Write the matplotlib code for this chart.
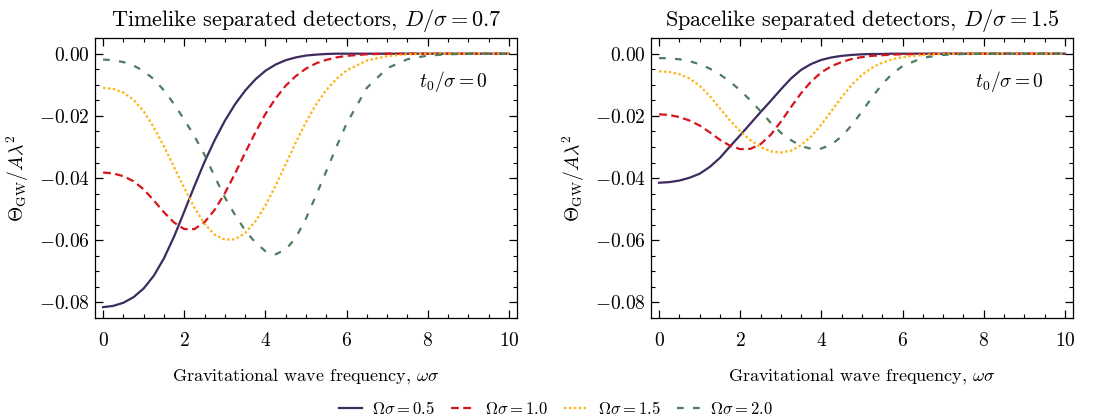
import matplotlib
matplotlib.use("Agg")
import matplotlib.pyplot as plt
from matplotlib.ticker import MultipleLocator

plt.rcParams['font.family'] = 'serif'
plt.rcParams['font.serif'] = ['cmr10']
plt.rcParams['mathtext.fontset'] = 'cm'
plt.rcParams['axes.formatter.use_mathtext'] = True
plt.rcParams['axes.unicode_minus'] = True

# ---------------- data ----------------
omega = [0, 0.25, 0.5, 0.75, 1.0, 1.25, 1.5, 1.75, 2.0, 2.25, 2.5, 2.75, 3.0,
         3.25, 3.5, 3.75, 4.0, 4.25, 4.5, 4.75, 5.0, 5.25, 5.5, 5.75, 6.0,
         6.5, 7.0, 7.5, 8.0, 8.5, 9.0, 9.5, 10.0]

series_labels = [r'$\Omega\sigma = 0.5$', r'$\Omega\sigma = 1.0$',
                 r'$\Omega\sigma = 1.5$', r'$\Omega\sigma = 2.0$']

# Timelike separated detectors, D/sigma = 0.7
time_05 = [-0.0815, -0.0811, -0.0801, -0.0783, -0.0755, -0.0714, -0.0658, -0.0588, -0.0508,
           -0.0426, -0.0348, -0.0278, -0.0216, -0.0163, -0.0119, -0.0083, -0.0055, -0.0035,
           -0.0021, -0.0012, -0.0006, -0.0003, -0.0001, 0.0, 0.0,
           0.0, 0.0, 0.0, 0.0, 0.0, 0.0, 0.0, 0.0]
time_10 = [-0.0382, -0.0385, -0.0394, -0.0410, -0.0436, -0.0472, -0.0510, -0.0543, -0.0564,
           -0.0564, -0.0542, -0.0502, -0.0449, -0.0386, -0.0319, -0.0254, -0.0194, -0.0144,
           -0.0103, -0.0072, -0.0048, -0.0031, -0.0020, -0.0012, -0.0007,
           -0.0002, 0.0, 0.0, 0.0, 0.0, 0.0, 0.0, 0.0]
time_15 = [-0.0110, -0.0113, -0.0125, -0.0148, -0.0185, -0.0237, -0.0298, -0.0365, -0.0432,
           -0.0495, -0.0547, -0.0582, -0.0598, -0.0597, -0.0577, -0.0540, -0.0488, -0.0425,
           -0.0355, -0.0285, -0.0220, -0.0163, -0.0117, -0.0081, -0.0054,
           -0.0022, -0.0008, -0.0002, 0.0, 0.0, 0.0, 0.0, 0.0]
time_20 = [-0.0019, -0.0021, -0.0027, -0.0038, -0.0056, -0.0082, -0.0118, -0.0162, -0.0212,
           -0.0265, -0.0325, -0.0395, -0.0462, -0.0518, -0.0568, -0.0607, -0.0635, -0.0645,
           -0.0630, -0.0592, -0.0530, -0.0455, -0.0378, -0.0300, -0.0225,
           -0.0110, -0.0047, -0.0018, -0.0006, -0.0002, 0.0, 0.0, 0.0]

# Spacelike separated detectors, D/sigma = 1.5
space_05 = [-0.0415, -0.0413, -0.0408, -0.0399, -0.0386, -0.0364, -0.0335, -0.0298, -0.0262,
            -0.0225, -0.0188, -0.0152, -0.0115, -0.0080, -0.0052, -0.0033, -0.0020, -0.0012,
            -0.0007, -0.0004, -0.0002, -0.0001, -0.0001, 0.0, 0.0,
            0.0, 0.0, 0.0, 0.0, 0.0, 0.0, 0.0, 0.0]
space_10 = [-0.0195, -0.0197, -0.0204, -0.0215, -0.0231, -0.0253, -0.0277, -0.0296, -0.0307,
            -0.0306, -0.0291, -0.0261, -0.0219, -0.0172, -0.0127, -0.0089, -0.0060, -0.0040,
            -0.0027, -0.0017, -0.0011, -0.0007, -0.0005, -0.0003, -0.0002,
            -0.0001, 0.0, 0.0, 0.0, 0.0, 0.0, 0.0, 0.0]
space_15 = [-0.0057, -0.0059, -0.0066, -0.0080, -0.0103, -0.0136, -0.0176, -0.0215, -0.0250,
            -0.0278, -0.0300, -0.0314, -0.0318, -0.0312, -0.0294, -0.0266, -0.0228, -0.0184,
            -0.0140, -0.0100, -0.0068, -0.0045, -0.0029, -0.0018, -0.0011,
            -0.0004, -0.0001, 0.0, 0.0, 0.0, 0.0, 0.0, 0.0]
space_20 = [-0.0014, -0.0015, -0.0018, -0.0024, -0.0034, -0.0048, -0.0067, -0.0090, -0.0118,
            -0.0150, -0.0185, -0.0222, -0.0254, -0.0278, -0.0297, -0.0306, -0.0305, -0.0292,
            -0.0266, -0.0230, -0.0186, -0.0140, -0.0098, -0.0064, -0.0040,
            -0.0013, -0.0004, -0.0001, 0.0, 0.0, 0.0, 0.0, 0.0]

panel_titles = [r'Timelike separated detectors, $D/\sigma = 0.7$',
                r'Spacelike separated detectors, $D/\sigma = 1.5$']
panel_series = [[time_05, time_10, time_15, time_20],
                [space_05, space_10, space_15, space_20]]
yticks = [-0.08, -0.06, -0.04, -0.02, 0.00]
xticks = [0, 2, 4, 6, 8, 10]

# ---------------- style ----------------
colors = ['#3d2a5f', '#d7141d', '#fdb515', '#4f7c5c']
lw = 1.6
dashes = [None, (3.5, 2.0), (1.1, 1.1), (3.0, 4.2)]

fig = plt.figure(figsize=(11.12, 4.19), dpi=100)
axes = [fig.add_axes([0.0854, 0.241, 0.3795, 0.668]),
        fig.add_axes([0.5854, 0.241, 0.3795, 0.668])]

handles = []
for ax, title, sers in zip(axes, panel_titles, panel_series):
    for i, ys in enumerate(sers):
        if dashes[i] is None:
            ln, = ax.plot(omega, ys, color=colors[i], lw=lw, label=series_labels[i])
        else:
            ln, = ax.plot(omega, ys, color=colors[i], lw=lw, dashes=dashes[i],
                          label=series_labels[i])
        if ax is axes[0]:
            handles.append(ln)
    ax.set_xlim(-0.2, 10.2)
    ax.set_ylim(-0.085, 0.005)
    ax.set_xticks(xticks)
    ax.set_yticks(yticks)
    ax.set_yticklabels([f'${v:.2f}$' for v in yticks])
    ax.xaxis.set_minor_locator(MultipleLocator(0.5))
    ax.yaxis.set_minor_locator(MultipleLocator(0.005))
    ax.tick_params(which='both', direction='in', top=True, right=True, labelsize=14)
    ax.tick_params(which='major', length=6, width=0.9)
    ax.tick_params(which='minor', length=3, width=0.8)
    ax.tick_params(axis='x', pad=10)
    for sp in ax.spines.values():
        sp.set_linewidth(0.9)
    ax.set_title(title, fontsize=16, pad=9)
    ax.set_xlabel(r'Gravitational wave frequency, $\omega\sigma$', fontsize=13, labelpad=12)
    ax.set_ylabel(r'$\Theta_{\rm GW}/A\lambda^2$', fontsize=14, labelpad=6)
    ax.text(0.85, 0.845, r'$t_0/\sigma = 0$', transform=ax.transAxes,
            ha='center', va='center', fontsize=14)

fig.legend(handles=handles, loc='center', bbox_to_anchor=(0.5, 0.026), ncol=4,
           frameon=False, fontsize=12, handlelength=1.4, handletextpad=0.6,
           columnspacing=1.0)

fig.savefig('out.png', dpi=100)
